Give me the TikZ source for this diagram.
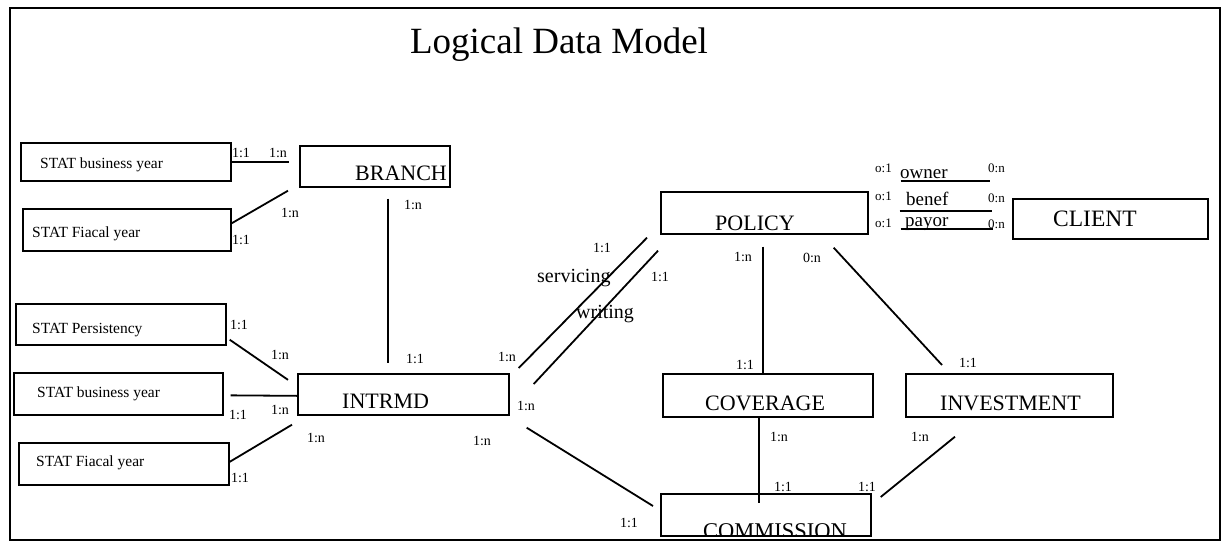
\documentclass[tikz,border=0pt]{standalone}
\usepackage{fontspec}
\setmainfont{Liberation Serif}
\usetikzlibrary{calc}

\tikzset{
  ent/.style={draw, line width=1.7pt, inner sep=0pt, anchor=north west},
  rel/.style={line width=1.8pt},
  bigt/.style={inner sep=0pt, anchor=base west, font=\fontsize{22}{24}\selectfont},
  smallt/.style={inner sep=0pt, anchor=base west, font=\fontsize{15.5}{17}\selectfont},
  card/.style={inner sep=0pt, font=\fontsize{14}{16}\selectfont},
  rolet/.style={inner sep=0pt, anchor=base west, font=\fontsize{20}{22}\selectfont},
  ownt/.style={inner sep=0pt, anchor=base west, font=\fontsize{19}{21}\selectfont},
  tinyt/.style={inner sep=0pt, anchor=base west, font=\fontsize{13}{15}\selectfont}
}
% entity box: name, left, top, width, height
\newcommand\entbox[5]{\node[ent, minimum width=#4pt, minimum height=#5pt] (#1) at (#2,#3) {};}

\begin{document}
\begin{tikzpicture}[x=1pt, y=-1pt]
\useasboundingbox (0,0) rectangle (1224,546);
\fill[white] (0,0) rectangle (1224,546);

% outer frame and title
\draw[line width=1.6pt] (10,8) rectangle (1220,540);
\node[inner sep=0pt, anchor=base, font=\fontsize{37}{40}\selectfont] (title) at (559,53) {Logical Data Model};

% entity boxes
\entbox{sby1}{20}{142}{210}{38}
\entbox{sfy1}{22}{208}{208}{42}
\entbox{branch}{299}{145}{150}{41}
\entbox{policy}{660}{191}{207}{42}
\entbox{client}{1012}{198}{195}{40}
\entbox{spers}{15}{303}{210}{41}
\entbox{sby2}{13}{372}{209}{42}
\entbox{sfy2}{18}{442}{210}{42}
\entbox{intrmd}{297}{373}{211}{41}
\entbox{coverage}{662}{373}{210}{43}
\entbox{investment}{905}{373}{207}{43}
\entbox{commission}{660}{493}{210}{42}

% box texts
\node[smallt] (sby1-t) at (40,168) {STAT business year};
\node[smallt] (sfy1-t) at (32,237) {STAT Fiacal year};
\node[smallt] (spers-t) at (32,333) {STAT Persistency};
\node[smallt] (sby2-t) at (37,397) {STAT business year};
\node[smallt] (sfy2-t) at (36,466) {STAT Fiacal year};
\node[bigt] (branch-t) at (355,180) {BRANCH};
\node[bigt] (policy-t) at (715,230) {POLICY};
\node[bigt, font=\fontsize{23.5}{25}\selectfont] (client-t) at (1053,226) {CLIENT};
\node[bigt] (intrmd-t) at (342,408) {INTRMD};
\node[bigt] (coverage-t) at (705,410) {COVERAGE};
\node[bigt] (investment-t) at (940,410) {INVESTMENT};
\begin{scope}
  \clip (commission.north west) rectangle (commission.south east);
  \node[bigt, font=\fontsize{22.5}{24}\selectfont] (commission-t) at (703,538) {COMMISSION};
\end{scope}

% relationships
\draw[rel] (sby1.east) -- ++(57,0);
\draw[rel] ($(branch.south west)+(-11,3)$) -- ($(sfy1.east)+(-1,-6)$);
\draw[rel] ($(branch.south west)+(89,11)$) -- ($(intrmd.north west)+(91,-10)$);
\draw[rel] ($(spers.south east)+(3,-6)$) -- ($(intrmd.west)+(-9,-14.5)$);
\draw[rel] ($(sby2.east)+(7,1.5)$) -- ($(intrmd.west)+(0,1.5)$);
\draw[rel] ($(intrmd.south west)+(-5,9)$) -- ($(sfy2.east)+(0,-2)$);
\draw[rel] ($(intrmd.north east)+(9,-5)$) -- ($(policy.south west)+(-13,3)$);
\draw[rel] ($(intrmd.north east)+(24,11)$) -- ($(policy.south west)+(-2,16)$);
\draw[rel] ($(intrmd.south east)+(17,12)$) -- ($(commission.north west)+(-7,13)$);
\draw[rel] ($(policy.south west)+(103,12)$) -- ($(coverage.north west)+(101,0)$);
\draw[rel] ($(policy.south east)+(-35,13)$) -- ($(investment.north west)+(37,-8)$);
\draw[rel] ($(coverage.south west)+(97,0)$) -- ($(commission.north west)+(99,10)$);
\draw[rel] ($(investment.south west)+(50,19)$) -- ($(commission.north east)+(9,4)$);

% policy - client roles
\draw[line width=1.3pt] ($(policy.north east)+(32,-10)$) coordinate (own-a) -- ++(89,0) coordinate (own-b);
\draw[line width=1.3pt] ($(policy.north east)+(31,20)$) coordinate (ben-a) -- ++(92,0) coordinate (ben-b);
\draw[line width=1.3pt] ($(policy.north east)+(32,38)$) coordinate (pay-a) -- ++(92,0) coordinate (pay-b);
\node[tinyt] (own-l) at (875,172) {o:1};
\node[ownt] (own-t) at (900,178) {owner};
\node[tinyt] (own-r) at (988,172) {0:n};
\node[tinyt] (ben-l) at (875,200) {o:1};
\node[ownt] (ben-t) at (906,205) {benef};
\node[tinyt] (ben-r) at (988,202) {0:n};
\node[tinyt] (pay-l) at (875,227) {o:1};
\node[ownt] (pay-t) at (905,226) {payor};
\node[tinyt] (pay-r) at (988,228) {0:n};

% role names on the intermediary - policy links
\node[rolet] (serv-t) at (537,282) {servicing};
\node[rolet] (writ-t) at (576,318) {writing};

% cardinalities
\node[card] (c1) at (241,153) {1:1};
\node[card] (c2) at (278,153) {1:n};
\node[card] (c3) at (290,213) {1:n};
\node[card] (c4) at (241,240) {1:1};
\node[card] (c5) at (413,205) {1:n};
\node[card] (c6) at (415,359) {1:1};
\node[card] (c7) at (239,325) {1:1};
\node[card] (c8) at (280,355) {1:n};
\node[card] (c9) at (238,415) {1:1};
\node[card] (c10) at (280,410) {1:n};
\node[card] (c11) at (316,438) {1:n};
\node[card] (c12) at (240,478) {1:1};
\node[card] (c13) at (507,357) {1:n};
\node[card] (c14) at (526,406) {1:n};
\node[card] (c15) at (482,441) {1:n};
\node[card] (c16) at (629,523) {1:1};
\node[card] (c17) at (602,248) {1:1};
\node[card] (c18) at (660,277) {1:1};
\node[card] (c19) at (743,257) {1:n};
\node[card] (c20) at (745,365) {1:1};
\node[card] (c21) at (812,258) {0:n};
\node[card] (c22) at (968,363) {1:1};
\node[card] (c23) at (779,437) {1:n};
\node[card] (c24) at (783,487) {1:1};
\node[card] (c25) at (920,437) {1:n};
\node[card] (c26) at (867,487) {1:1};
\end{tikzpicture}
\end{document}
